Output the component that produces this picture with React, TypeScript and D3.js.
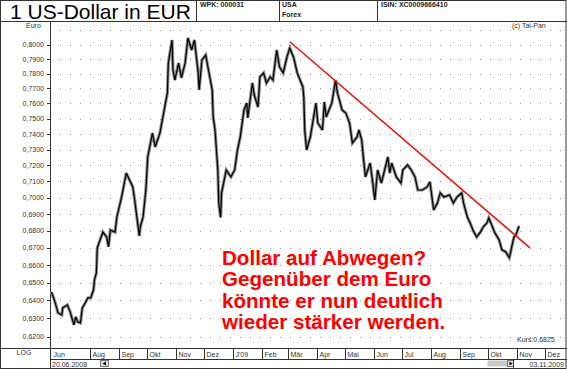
import React from "react";
import * as d3 from "d3";

const W = 567;
const H = 369;

const titleText = "1 US-Dollar in EUR";
const wpkText = "WPK: 000031";
const countryText = "USA";
const marketText = "Forex";
const isinText = "ISIN: XC0009666410";
const unitText = "Euro";
const copyrightText = "(c) Tai-Pan";
const lastPriceText = "Kurs:0,6825";
const startDateText = "20.06.2008";
const endDateText = "03.11.2009";
const scaleText = "LOG";

const dates = [
  "2008-06-20","2008-06-24","2008-06-27","2008-07-01","2008-07-02","2008-07-07","2008-07-10","2008-07-14",
  "2008-07-16","2008-07-18","2008-07-21","2008-07-23","2008-07-25","2008-07-29","2008-08-01","2008-08-04",
  "2008-08-05","2008-08-07","2008-08-08","2008-08-14","2008-08-18","2008-08-20","2008-08-22","2008-08-27",
  "2008-08-29","2008-09-03","2008-09-08","2008-09-15","2008-09-17","2008-09-22","2008-09-23","2008-09-26",
  "2008-09-29","2008-10-01","2008-10-06","2008-10-09","2008-10-14","2008-10-17","2008-10-22","2008-10-23",
  "2008-10-27","2008-10-28","2008-10-30","2008-11-03","2008-11-06","2008-11-10","2008-11-13","2008-11-17",
  "2008-11-20","2008-11-24","2008-11-25","2008-11-28","2008-12-02","2008-12-05","2008-12-09","2008-12-10",
  "2008-12-12","2008-12-15","2008-12-16","2008-12-18","2008-12-19","2008-12-24","2008-12-29","2009-01-02",
  "2009-01-05","2009-01-08","2009-01-12","2009-01-15","2009-01-16","2009-01-21","2009-01-23","2009-01-27",
  "2009-01-29","2009-02-02","2009-02-05","2009-02-09","2009-02-12","2009-02-16","2009-02-19","2009-02-23",
  "2009-02-27","2009-03-02","2009-03-05","2009-03-06","2009-03-10","2009-03-16","2009-03-17","2009-03-18",
  "2009-03-20","2009-03-24","2009-03-30","2009-04-01","2009-04-06","2009-04-08","2009-04-10","2009-04-16",
  "2009-04-20","2009-04-22","2009-04-27","2009-05-01","2009-05-05","2009-05-08","2009-05-13","2009-05-15",
  "2009-05-18","2009-05-20","2009-05-22","2009-05-27","2009-05-29","2009-06-01","2009-06-04","2009-06-08",
  "2009-06-15","2009-06-17","2009-06-19","2009-06-24","2009-06-29","2009-07-01","2009-07-06","2009-07-10",
  "2009-07-14","2009-07-17","2009-07-22","2009-07-27","2009-07-30","2009-08-03","2009-08-07","2009-08-10",
  "2009-08-14","2009-08-20","2009-08-24","2009-08-28","2009-09-02","2009-09-04","2009-09-08","2009-09-11",
  "2009-09-14","2009-09-18","2009-09-22","2009-09-25","2009-09-29","2009-10-01","2009-10-05","2009-10-07",
  "2009-10-12","2009-10-15","2009-10-19","2009-10-21","2009-10-23","2009-10-26","2009-10-28","2009-10-30",
  "2009-11-02","2009-11-03"
];

const closes = [
  0.6447,0.6386,0.6330,0.6319,0.6358,0.6375,0.6336,0.6264,
  0.6308,0.6281,0.6275,0.6358,0.6375,0.6414,0.6414,0.6459,
  0.6515,0.6555,0.6700,0.6793,0.6764,0.6706,0.6805,0.6793,
  0.6883,0.7004,0.7152,0.7066,0.6986,0.6770,0.6823,0.6883,
  0.7047,0.7253,0.7406,0.7317,0.7406,0.7504,0.7670,0.7873,
  0.8033,0.7825,0.7757,0.7873,0.7771,0.7873,0.8047,0.7963,
  0.8033,0.7805,0.7690,0.7894,0.7928,0.7825,0.7690,0.7511,
  0.7426,0.7171,0.6967,0.6880,0.7029,0.7171,0.7128,0.7171,
  0.7297,0.7381,0.7557,0.7603,0.7504,0.7737,0.7656,0.7576,
  0.7778,0.7805,0.7737,0.7778,0.7757,0.7963,0.7846,0.7805,
  0.7915,0.7977,0.7928,0.7915,0.7805,0.7710,0.7643,0.7426,
  0.7297,0.7381,0.7603,0.7471,0.7426,0.7610,0.7511,0.7603,
  0.7757,0.7670,0.7557,0.7537,0.7471,0.7342,0.7381,0.7426,
  0.7361,0.7234,0.7128,0.7215,0.7128,0.6986,0.7171,0.7090,
  0.7253,0.7152,0.7215,0.7128,0.7090,0.7171,0.7203,0.7171,
  0.7128,0.7047,0.7047,0.7066,0.7097,0.6925,0.6967,0.7029,
  0.7004,0.7016,0.6967,0.7004,0.7029,0.6967,0.6883,0.6847,
  0.6805,0.6764,0.6793,0.6823,0.6847,0.6877,0.6823,0.6793,
  0.6747,0.6688,0.6677,0.6659,0.6642,0.6717,0.6764,0.6776,
  0.6823,0.6825
];

const yTicks = [0.62,0.63,0.64,0.65,0.66,0.67,0.68,0.69,0.70,0.71,0.72,0.73,0.74,0.75,0.76,0.77,0.78,0.79,0.80];
const gridValues = [0.62,0.63,0.64,0.65,0.66,0.67,0.68,0.69,0.70,0.71,0.72,0.73,0.74,0.75,0.76,0.77,0.78,0.79,0.80,0.81];

const monthDates = [
  "2008-06-20","2008-08-01","2008-09-01","2008-10-01","2008-11-01","2008-12-01","2009-01-01","2009-02-01",
  "2009-03-01","2009-04-01","2009-05-01","2009-06-01","2009-07-01","2009-08-01","2009-09-01","2009-10-01",
  "2009-11-01","2009-12-01"
];
const monthLabels = ["Jun","Aug","Sep","Okt","Nov","Dez","J'09","Feb","Mär","Apr","Mai","Jun","Jul","Aug","Sep","Okt","Nov","Dez"];

const trendDates = ["2009-03-02","2009-11-14"];
const trendValues = [0.8021, 0.6700];

const noteLines = ["Dollar auf Abwegen?","Gegenüber dem Euro","könnte er nun deutlich","wieder stärker werden."];

const FONT = "'Liberation Sans', Arial, sans-serif";

export default function App() {
  const parse = d3.timeParse("%Y-%m-%d");
  const plotLeft = 50;
  const plotRight = 565;
  const plotTop = 22;
  const plotBottom = 348;

  const x = d3.scaleTime()
    .domain([parse("2008-06-20") as Date, parse("2009-12-21") as Date])
    .range([51.5, 564.5]);
  const y = d3.scaleLog().domain([0.62, 0.8]).range([336.7, 44.7]);

  const data = dates.map((d, i) => ({ d: parse(d) as Date, v: closes[i] }));
  const line = d3.line<{ d: Date; v: number }>().x(p => x(p.d)).y(p => y(p.v));
  const path = line(data) || "";

  const trend = trendDates.map((d, i) => ({ d: parse(d) as Date, v: trendValues[i] }));
  const trendPath = line(trend) || "";

  const axisColor = "#333";
  const labelColor = "#333";

  return (
    <svg width={W} height={H} style={{ position: "absolute", left: 0, top: 0, background: "#fff" }} fontFamily={FONT}>
      <defs>
        <clipPath id="plotClip">
          <rect x={plotLeft} y={plotTop} width={plotRight - plotLeft} height={plotBottom - plotTop} />
        </clipPath>
      </defs>
      <rect x={0} y={0} width={W} height={H} fill="#fff" />

      {/* header */}
      <text x={10} y={18.5} fontSize={21} fill="#000">{titleText}</text>
      <text x={200} y={7} fontSize={7} fontWeight="bold" fill="#222">{wpkText}</text>
      <text x={282} y={7} fontSize={7} fontWeight="bold" fill="#222">{countryText}</text>
      <text x={282} y={17} fontSize={7} fontWeight="bold" fill="#222">{marketText}</text>
      <text x={381} y={7} fontSize={7} fontWeight="bold" fill="#222">{isinText}</text>
      {[196.5, 279.5, 377.5].map(xx => (
        <line key={xx} x1={xx} x2={xx} y1={0} y2={21.5} stroke={axisColor} />
      ))}
      <line x1={0} x2={W} y1={21.5} y2={21.5} stroke={axisColor} />

      <text x={26} y={28} fontSize={7} fill={labelColor}>{unitText}</text>
      <text x={512} y={28} fontSize={7} fill={labelColor}>{copyrightText}</text>

      {/* grid */}
      {gridValues.map(v => (
        <line key={"g" + v} x1={plotLeft} x2={plotRight} y1={Math.round(y(v)) + 0.5} y2={Math.round(y(v)) + 0.5}
          stroke="#999" strokeDasharray="1 9" />
      ))}

      {/* y axis */}
      <line x1={50.5} x2={50.5} y1={21.5} y2={H} stroke={axisColor} />
      {yTicks.map(v => (
        <g key={"t" + v}>
          <line x1={47} x2={50} y1={Math.round(y(v)) + 0.5} y2={Math.round(y(v)) + 0.5} stroke={axisColor} />
          <text x={44} y={y(v) + 2.5} fontSize={7} textAnchor="end" fill={labelColor}>
            {d3.format(".4f")(v).replace(".", ",")}
          </text>
        </g>
      ))}

      {/* price line */}
      <g clipPath="url(#plotClip)">
        <path d={path} fill="none" stroke="#8c8c8c" strokeWidth={3.2} strokeLinejoin="miter" strokeMiterlimit={3} />
        <path d={path} fill="none" stroke="#000" strokeWidth={1.2} strokeLinejoin="miter" strokeMiterlimit={3} />
        <path d={trendPath} fill="none" stroke="#ff0000" strokeWidth={1.4} />
      </g>

      <text x={517} y={342} fontSize={7} fill={labelColor}>{lastPriceText}</text>

      {/* note */}
      {noteLines.map((t, i) => (
        <text key={t} x={222} y={264.5 + i * 21.5} fontSize={20.6} fontWeight="bold" fill="#ff0000">{t}</text>
      ))}

      {/* x axis rows */}
      <line x1={0} x2={W} y1={348.5} y2={348.5} stroke={axisColor} />
      <line x1={50} x2={W} y1={359.5} y2={359.5} stroke={axisColor} />
      <text x={24} y={355} fontSize={7} textAnchor="middle" fill={labelColor}>{scaleText}</text>
      {monthDates.map((d, i) => {
        const xx = Math.round(x(parse(d) as Date)) - 0.5;
        return (
          <g key={"m" + i}>
            {i > 0 && <line x1={xx} x2={xx} y1={348.5} y2={359.5} stroke={axisColor} />}
            <text x={Math.max(xx, 50.5) + 2} y={356.5} fontSize={7} fill={labelColor}>{monthLabels[i]}</text>
          </g>
        );
      })}

      <text x={52} y={366.5} fontSize={7} fill={labelColor}>{startDateText}</text>
      <rect x={100.5} y={360.5} width={8} height={6} fill="#e0e0e0" stroke="#777" />
      <path d="M102.5 363.5 L106 361.5 L106 365.5 Z" fill="#000" />

      <rect x={487.5} y={360.5} width={20} height={6} fill="#c8c8c8" />
      <rect x={507.5} y={360.5} width={6} height={6} fill="#e0e0e0" stroke="#777" />
      <path d="M509.5 361.5 L512.5 363.5 L509.5 365.5 Z" fill="#000" />
      <line x1={513.5} x2={513.5} y1={359.5} y2={H} stroke={axisColor} />
      <text x={564} y={366.5} fontSize={7} textAnchor="end" fill={labelColor}>{endDateText}</text>

      {/* outer border */}
      <rect x={0.5} y={0.5} width={W - 1.5} height={H - 1} fill="none" stroke={axisColor} />
    </svg>
  );
}
